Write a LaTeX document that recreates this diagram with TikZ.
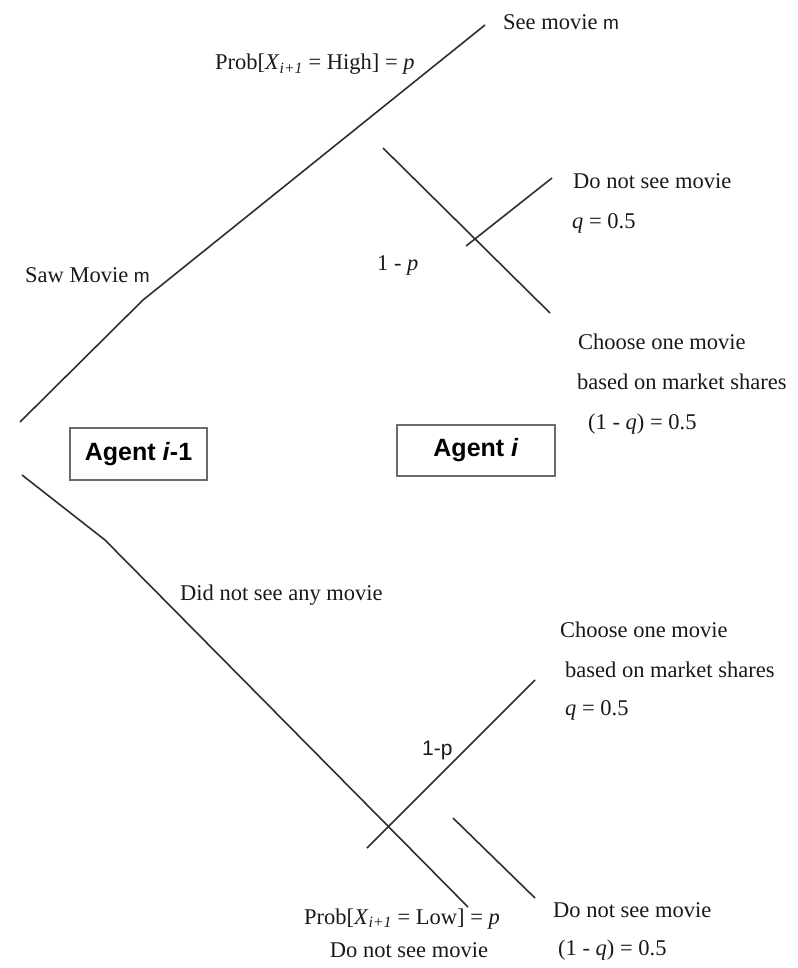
\documentclass[tikz,border=0pt]{standalone}
\usepackage{fontspec}
\setmainfont{Liberation Serif}
\setsansfont{Liberation Sans}
\usetikzlibrary{positioning}
\definecolor{lineGray}{HTML}{2E2E2E}
\definecolor{boxGray}{HTML}{6A6A6A}
\newcommand{\mv}{{\sffamily\fontsize{19}{22}\selectfont m}}

\begin{document}
\begin{tikzpicture}[
x=1pt, y=-1pt,
branch/.style={lineGray, line width=1.6pt},
lbl/.style={anchor=base west, inner sep=0pt, font=\fontsize{22.5}{26}\selectfont, text=black!90},
agentbox/.style={rectangle, draw=boxGray, line width=1.6pt, fill=white, inner sep=0pt, font=\sffamily\bfseries\fontsize{25}{29}\selectfont}
]
\useasboundingbox (0,0) rectangle (797,968);

\coordinate (rootHi) at (20,422);
\coordinate (kinkHi) at (143,300);
\coordinate (seeEnd) at (485,25);
\coordinate (curTop) at (383,148);
\coordinate (curBot) at (550,313);
\coordinate (dnsFoot) at (466,246);
\coordinate (dnsEnd) at (552,178);
\coordinate (rootLo) at (22,475);
\coordinate (kinkLo) at (105,540);
\coordinate (lowEnd) at (468,907);
\coordinate (chFoot) at (367,848);
\coordinate (chEnd) at (535,680);
\coordinate (parTop) at (453,818);
\coordinate (parEnd) at (535,898);

\node[agentbox, minimum width=137pt, minimum height=52pt] (agentPrev) at (138.5,454) {Agent \textit{i}-1};
\node[agentbox, minimum width=158pt, minimum height=51pt] (agentCur) at (476,450.5) {Agent \textit{i}};

\node[lbl] (seeM) at (503,30) {See movie \mv};
\node[lbl] (probHigh) at (215,70) {Prob[\textit{X}\textsubscript{\textit{i+1}} = High] = \textit{p}};
\node[lbl] (dnsTop) at (573,189) {Do not see movie};
\node[lbl] (qTop) at (572,229) {\textit{q} = 0.5};
\node[lbl] (oneMinusP) at (377,270) {1 - \textit{p}};
\node[lbl] (sawM) at (25,282) {Saw Movie \mv};
\node[lbl] (chooseTop) at (578,349) {Choose one movie};
\node[lbl] (basedTop) at (577,389) {based on market shares};
\node[lbl] (oneMinusQTop) at (588,429) {(1 - \textit{q}) = 0.5};

\node[lbl] (didNot) at (180,600) {Did not see any movie};
\node[lbl] (chooseLow) at (560,637) {Choose one movie};
\node[lbl] (basedLow) at (565,677) {based on market shares};
\node[lbl] (qLow) at (565,715) {\textit{q} = 0.5};
\node[lbl, font=\sffamily\fontsize{21}{25}\selectfont] (oneMinusPLow) at (422,755) {1-p};
\node[lbl] (dnsLow) at (553,917) {Do not see movie};
\node[lbl] (oneMinusQLow) at (558,955) {(1 - \textit{q}) = 0.5};
\node[lbl, anchor=base] (probLow) at (402,924) {Prob[\textit{X}\textsubscript{\textit{i+1}} = Low] = \textit{p}};
\node[lbl, anchor=base] (dnsBottom) at (409,957) {Do not see movie};

\draw[branch] (rootHi) -- (kinkHi) -- (seeEnd);
\draw[branch] (curTop) -- (curBot);
\draw[branch] (dnsFoot) -- (dnsEnd);
\draw[branch] (rootLo) -- (kinkLo) -- (lowEnd);
\draw[branch] (chFoot) -- (chEnd);
\draw[branch] (parTop) -- (parEnd);
\end{tikzpicture}
\end{document}
